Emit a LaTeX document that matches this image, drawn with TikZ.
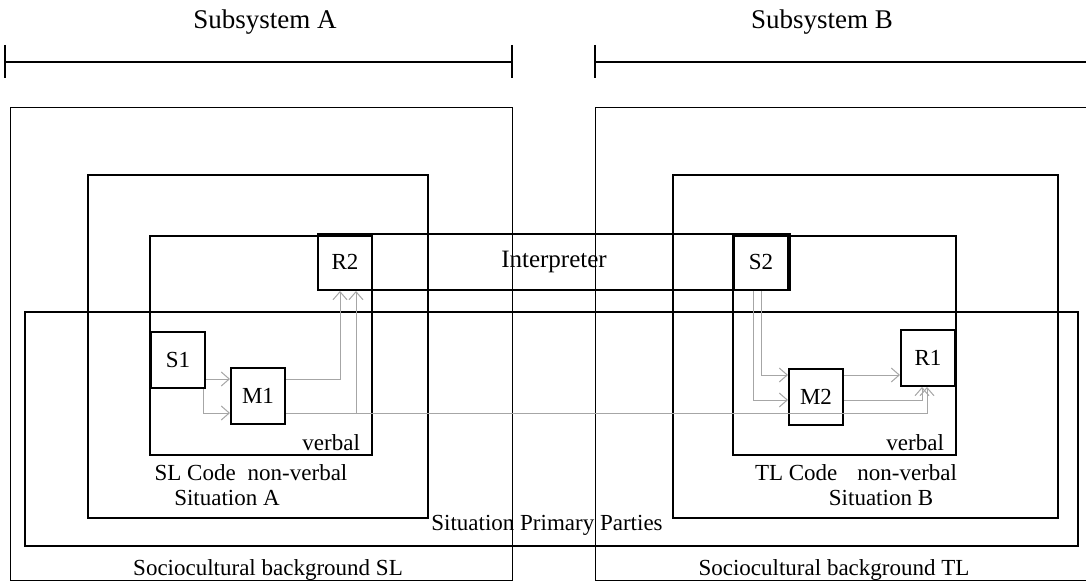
\documentclass[tikz,border=0pt]{standalone}
\usepackage{fontspec}
\setmainfont{Liberation Serif}
\usetikzlibrary{arrows.meta}
\tikzset{part node/.style={rectangle,draw,line width=1pt,minimum width=27pt,minimum height=28pt,inner sep=0pt},
flow/.style={draw=black!35,line width=0.5pt,-{Straight Barb[length=4pt,width=7pt]}},
title/.style={font=\fontsize{13.5}{16}\selectfont},
}

\begin{document}
\begin{tikzpicture}[x=0.5pt,y=-0.5pt,font=\fontsize{11.5}{13}\selectfont]
\useasboundingbox (0,0) rectangle (1086,588);

%% subsystems
\node[title] (subA) at (265,22) {Subsystem A};
\node[title] (subB) at (822,22) {Subsystem B};
\draw[line width=0.8pt] (5,45) -- (5,78) (5,62) -- (512,62) (512,45) -- (512,78);
\draw[line width=0.8pt] (595,45) -- (595,78) (595,62) -- (1095,62);

%% frames
\draw[line width=0.5pt] (10,108) rectangle (512,580);
\draw[line width=0.5pt] (595,108) rectangle (1095,580);
\draw[line width=1.3pt] (25,312) rectangle (1078,546);
\draw[line width=0.6pt] (88,175) rectangle (428,518);
\draw[line width=0.6pt] (673,175) rectangle (1058,518);
\draw[line width=0.8pt] (150,236) rectangle (372,455);
\draw[line width=0.8pt] (733,236) rectangle (956,455);

%% interpreter and parties
\node (interp) [draw,line width=1pt,minimum width=236pt,minimum height=28pt,inner sep=0pt,font=\fontsize{12.5}{14}\selectfont] at (554,262) {Interpreter};
\node[part node] (R2) at (345,262) {R2};
\node[part node] (S2) at (761,262) {S2};
\node[part node] (S1) at (178,360) {S1};
\node[part node] (M1) at (258,396) {M1};
\node[part node] (M2) at (816,397) {M2};
\node[part node] (R1) at (928,358) {R1};

%% levels for the connectors
\coordinate (yA) at (0,379);
\coordinate (yB) at (0,413);
\coordinate (yC) at (0,375);
\coordinate (yD) at (0,400);
\coordinate (xS1) at (203,0);
\coordinate (xR2) at (340,0);
\coordinate (xS2) at (753,0);
\coordinate (xR1a) at (922,0);
\coordinate (xR1b) at (927,0);
\coordinate (split) at (356,413);

\draw[flow] (S1.east |- yA) -- (M1.west |- yA);
\draw[flow] (S1.south -| xS1) |- (M1.west |- yB);
\draw[flow] (M1.east |- yA) -| (R2.south -| xR2);
\draw[flow] (M1.east |- yB) -| (R1.south -| xR1b);
\draw[flow] (split) -- (R2.south -| split);
\draw[flow] (S2.south) |- (M2.west |- yC);
\draw[flow] (S2.south -| xS2) |- (M2.west |- yD);
\draw[flow] (M2.east |- yC) -- (R1.west |- yC);
\draw[flow] (M2.east |- yD) -| (R1.south -| xR1a);

%% labels
\node (verbA) [anchor=east] at (367,443) {verbal};
\node (codeA) at (251,473) {SL Code\hspace{6pt}non-verbal};
\node (sitA) at (227,498) {Situation A};
\node (spp) at (547,525) {Situation Primary Parties};
\node (bgA) at (268,570) {Sociocultural background SL};
\node (verbB) [anchor=east] at (951,443) {verbal};
\node (codeB) at (856,473) {TL Code\hspace{10pt}non-verbal};
\node (sitB) at (881,498) {Situation B};
\node (bgB) at (834,570) {Sociocultural background TL};
\end{tikzpicture}
\end{document}
